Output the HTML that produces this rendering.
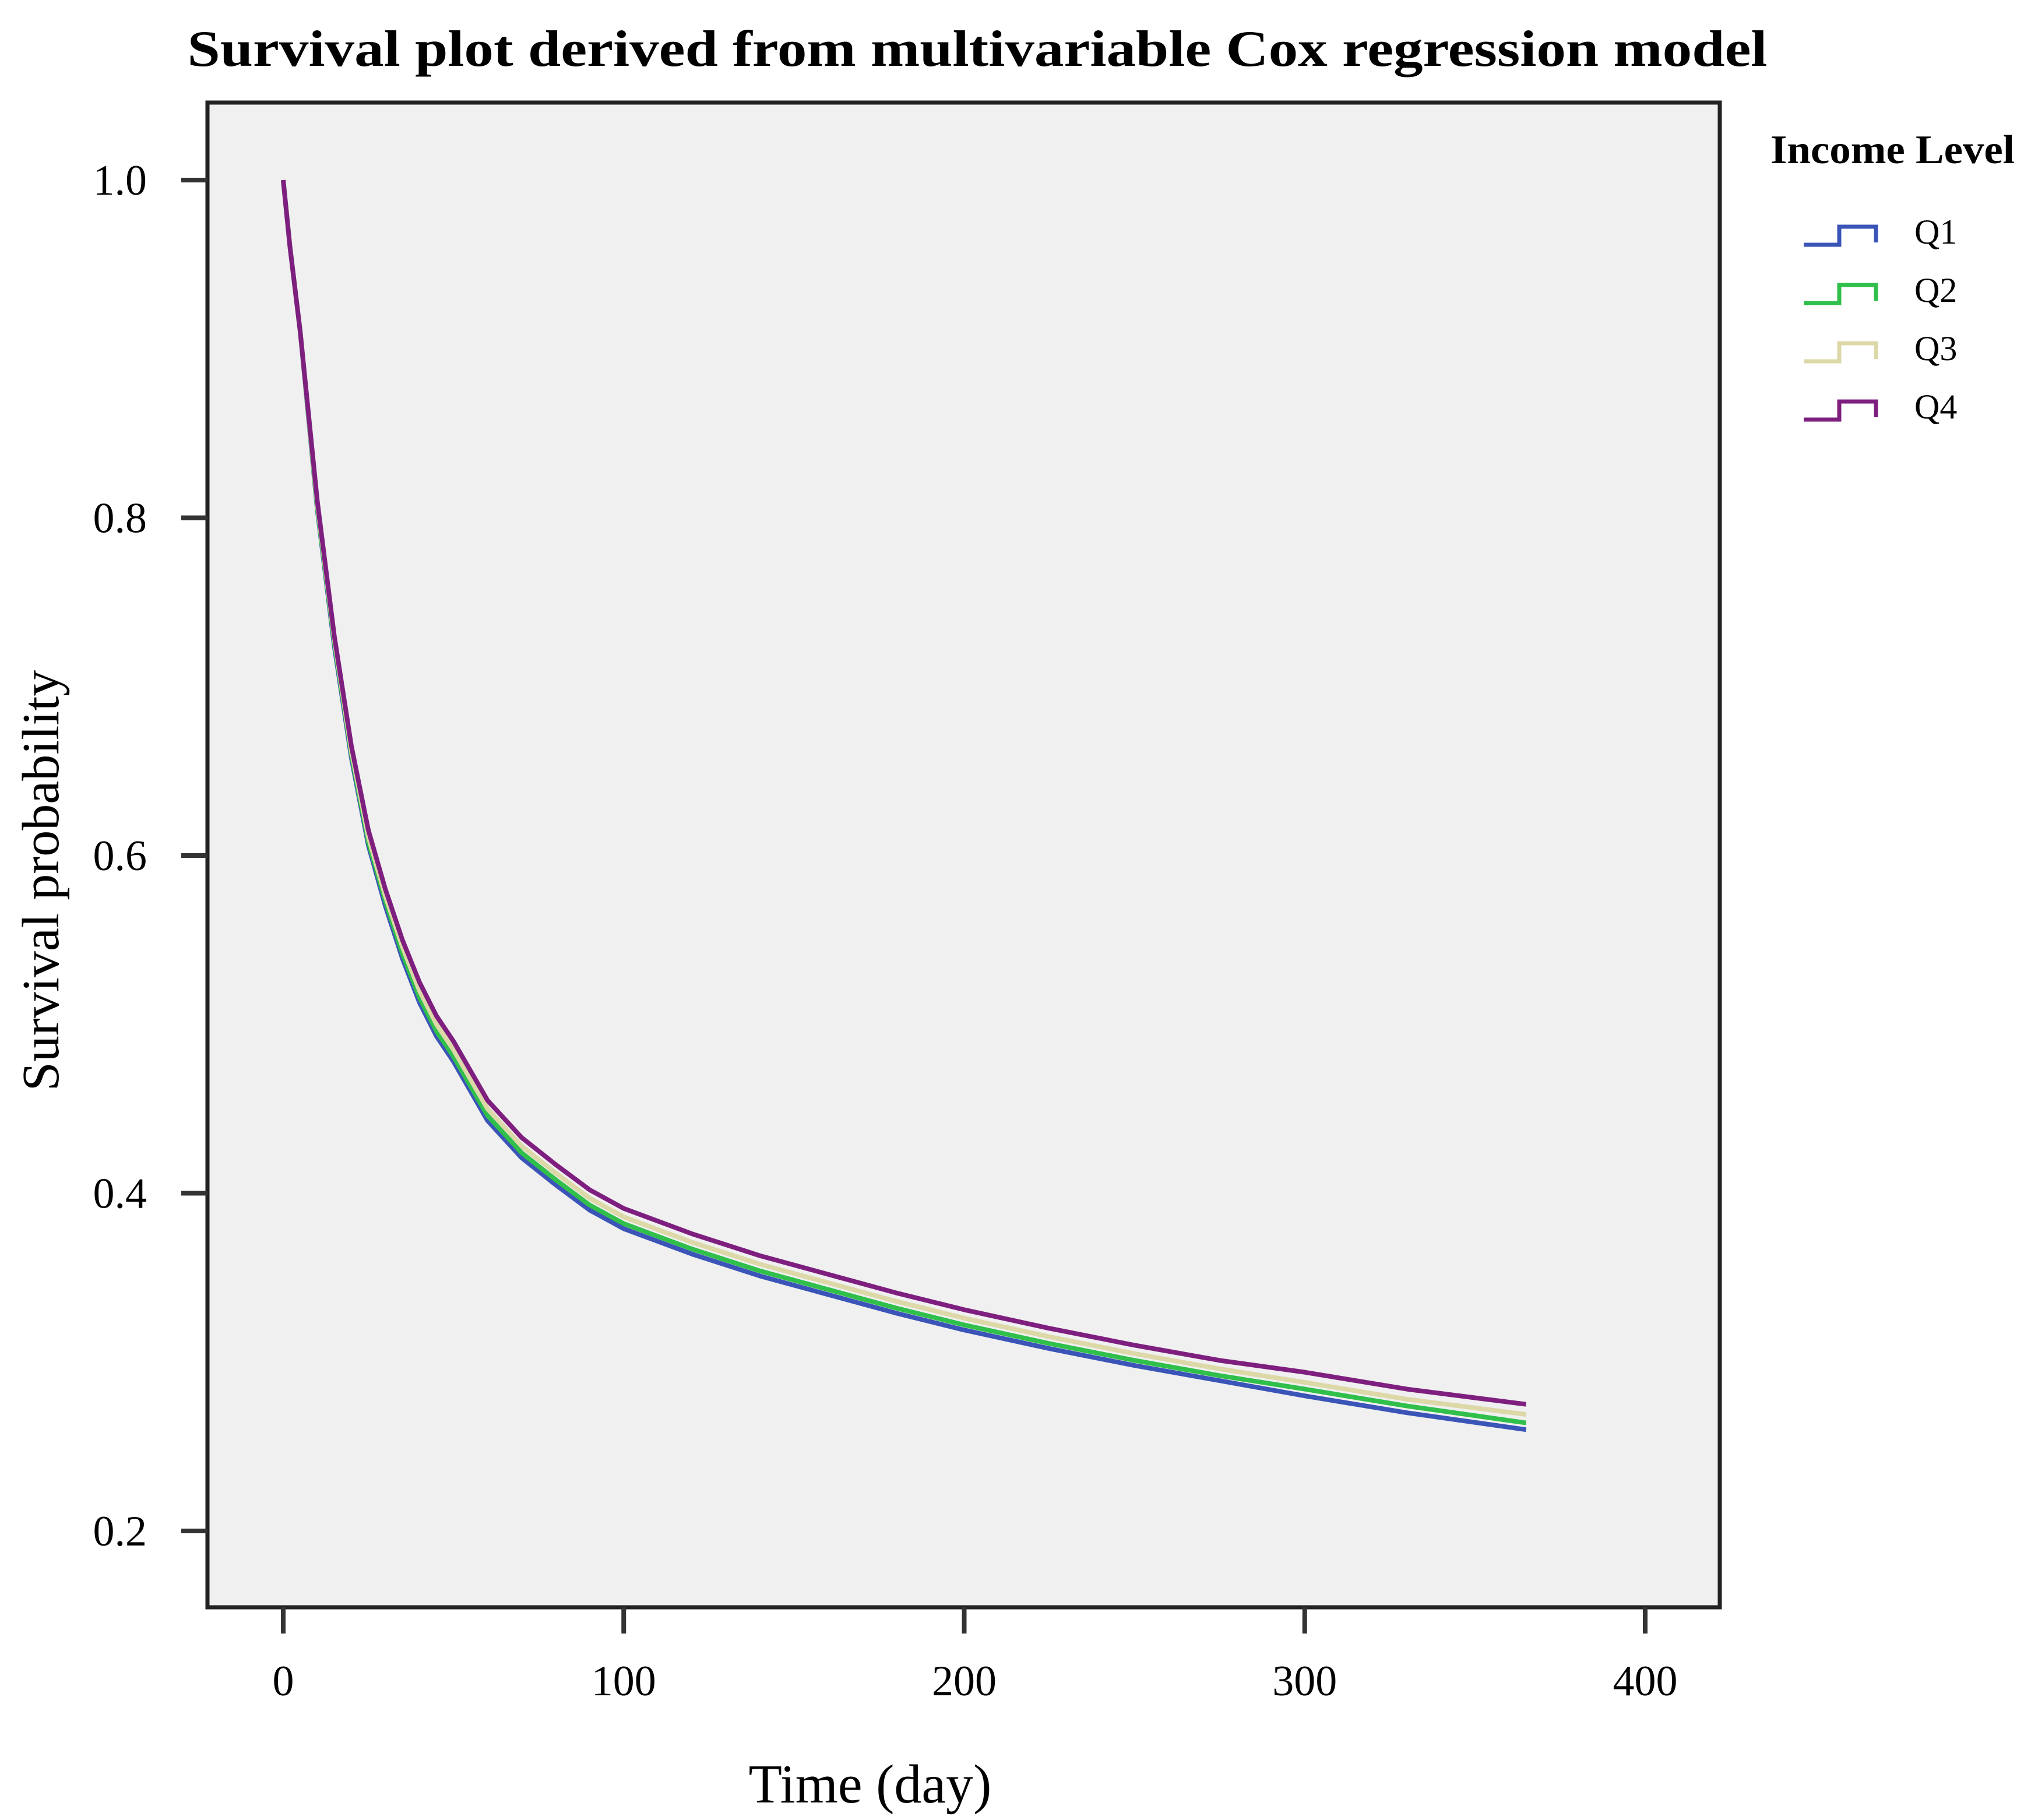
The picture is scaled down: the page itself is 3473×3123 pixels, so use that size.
<!DOCTYPE html>
<html><head><meta charset="utf-8"><style>
html,body{margin:0;padding:0;background:#fff;}
svg{display:block;font-family:"Liberation Serif",serif;}
</style></head><body>
<svg id="chart" width="3473" height="3123" viewBox="0 0 3473 3123" xmlns="http://www.w3.org/2000/svg">
<text x="1677" y="113" text-anchor="middle" font-size="88" font-weight="bold" textLength="2711" lengthAdjust="spacingAndGlyphs">Survival plot derived from multivariable Cox regression model</text>
<rect x="356" y="176" width="2595" height="2582" fill="#f0f0f0" stroke="#222" stroke-width="7"/>
<g id="yticks"></g><g id="xticks"></g><g id="series"></g>
<text x="1493" y="3093" text-anchor="middle" font-size="94">Time (day)</text>
<text transform="translate(100,1511) rotate(-90)" text-anchor="middle" font-size="90">Survival probability</text>
<g>
<text x="3038" y="280" font-size="70" font-weight="bold" textLength="419" lengthAdjust="spacingAndGlyphs">Income Level</text>
<g id="legend-items"></g>
</g>
</svg>
<script>
const times = [0,2,5,10,15,20,25,30,35,40,45,50,60,70,80,90,100,120,140,160,180,200,225,250,275,300,330,365];
const q4 = [1,0.96,0.91,0.81,0.73,0.665,0.615,0.58,0.55,0.525,0.505,0.49,0.455,0.433,0.417,0.402,0.391,0.376,0.363,0.352,0.341,0.331,0.32,0.31,0.301,0.294,0.284,0.275];
const q3 = [1,0.96,0.91,0.808,0.728,0.662,0.611,0.576,0.546,0.52,0.5,0.485,0.45,0.428,0.412,0.397,0.386,0.371,0.358,0.347,0.336,0.326,0.315,0.305,0.296,0.288,0.278,0.269];
const q2 = [1,0.96,0.91,0.806,0.726,0.66,0.608,0.573,0.542,0.516,0.496,0.481,0.446,0.424,0.408,0.393,0.382,0.367,0.354,0.343,0.332,0.322,0.311,0.301,0.292,0.284,0.274,0.264];
const q1 = [1,0.96,0.91,0.805,0.724,0.658,0.606,0.57,0.539,0.513,0.493,0.478,0.443,0.421,0.405,0.39,0.379,0.364,0.351,0.34,0.329,0.319,0.308,0.298,0.289,0.28,0.27,0.26];
const seriesNames = ["Q1","Q2","Q3","Q4"];
const seriesColors = ["#3b54b8","#2fbf4a","#dcd8a8","#7e1f80"];
const yTicks = [0.2,0.4,0.6,0.8,1.0];
const yTickLabels = ["0.2","0.4","0.6","0.8","1.0"];
const xTicks = [0,100,200,300,400];
const xTickLabels = ["0","100","200","300","400"];

const NS="http://www.w3.org/2000/svg";
function xs(t){return 486 + t*(2823-486)/400;}
function ys(v){return 309 + (1-v)*(2627-309)/0.8;}
function mk(tag,attrs,parent){const e=document.createElementNS(NS,tag);for(const k in attrs)e.setAttribute(k,attrs[k]);parent.appendChild(e);return e;}

const yg=document.getElementById('yticks');
yTicks.forEach((v,i)=>{
  const l=mk('line',{x1:311,x2:356,y1:ys(v),y2:ys(v),stroke:'#333','stroke-width':8},yg);
  
  
  const t=mk('text',{x:252,y:ys(v)+25,'text-anchor':'end','font-size':74},yg);
  
  
  t.textContent=yTickLabels[i];
});
const xg=document.getElementById('xticks');
xTicks.forEach((v,i)=>{
  const l=mk('line',{x1:xs(v),x2:xs(v),y1:2758,y2:2803,stroke:'#333','stroke-width':8},xg);
  
  
  const t=mk('text',{x:xs(v),y:2909,'text-anchor':'middle','font-size':74},xg);
  
  
  t.textContent=xTickLabels[i];
});
const sg=document.getElementById('series');
[q1,q2,q3,q4].forEach((vals,si)=>{
  const pts=times.map((t,i)=>xs(t)+','+ys(vals[i])).join(' ');
  const p=mk('polyline',{points:pts,fill:'none',stroke:seriesColors[si],'stroke-width':8,'stroke-linejoin':'round'},sg);
  
  
});
const lg=document.getElementById('legend-items');
seriesNames.forEach((n,i)=>{
  const y0=420+i*100;
  const p=mk('polyline',{points:`3095,${y0} 3156,${y0} 3156,${y0-31} 3219,${y0-31} 3219,${y0-4}`,fill:'none',stroke:seriesColors[i],'stroke-width':7},lg);
  
  
  const t=mk('text',{x:3285,y:y0-2,'font-size':60},lg);
  
  
  t.textContent=n;
});
</script>
</body></html>
